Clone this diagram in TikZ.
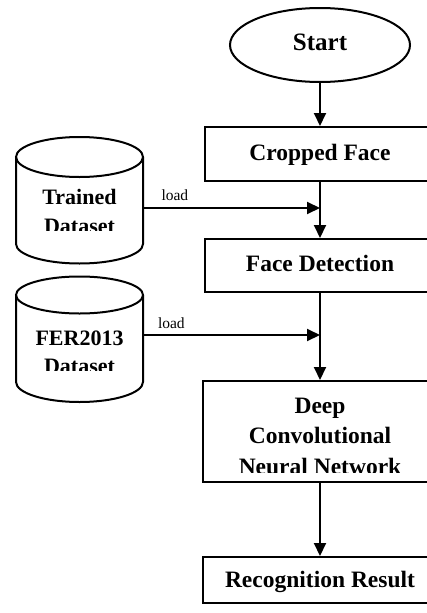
\documentclass[tikz,border=0pt]{standalone}
\usepackage{fontspec}
\setmainfont{Liberation Serif}
\usetikzlibrary{arrows.meta,shapes.geometric}
\begin{document}
\begin{tikzpicture}[x=1pt,y=-1pt,
  line width=2pt,
  stepbox/.style={draw, rectangle, inner sep=0pt},
  boxtext/.style={font=\bfseries\fontsize{23.5}{30}\selectfont, anchor=base, inner sep=0pt},
  dbtext/.style={font=\bfseries\fontsize{22}{29}\selectfont, anchor=base, inner sep=0pt},
  loadtext/.style={font=\fontsize{15.5}{18}\selectfont, anchor=base west, inner sep=0pt},
  flow/.style={-{Triangle[length=13pt,width=12pt]}},
]
\useasboundingbox (0,0) rectangle (427,613);
\clip (0,0) rectangle (427,613);

% start terminal
\node[draw, ellipse, minimum width=180pt, minimum height=74pt, inner sep=0pt] (start) at (320,45) {};
\node[boxtext, font=\bfseries\fontsize{25}{30}\selectfont] (starttxt) at (320,50) {Start};

% process boxes
\node[stepbox, minimum width=230pt, minimum height=54pt] (crop) at (320,154) {};
\node[boxtext] (croptxt) at (320,160) {Cropped Face};

\node[stepbox, minimum width=230pt, minimum height=53pt] (facedet) at (320,265.5) {};
\node[boxtext] (facedettxt) at (320,271) {Face Detection};

\node[stepbox, minimum width=234pt, minimum height=101pt] (dcnn) at (320,431.5) {};
\node[boxtext] (dcnn1) at (320,413) {Deep};
\node[boxtext] (dcnn2) at (320,443) {Convolutional};
\begin{scope}
  \clip (200,450) rectangle (440,472);
  \node[boxtext] (dcnn3) at (320,474) {Neural Network};
\end{scope}

\node[stepbox, minimum width=234pt, minimum height=46pt] (recog) at (320,580) {};
\node[boxtext] (recogtxt) at (320,587) {Recognition Result};

% datasets (cylinders)
\draw (16,157) -- (16,244) arc[start angle=180, end angle=0, x radius=63.5, y radius=19.5] -- (143,157);
\draw (79.5,157) ellipse [x radius=63.5, y radius=20];
\node[dbtext] (trained1) at (79.5,204) {Trained};
\begin{scope}
  \clip (16,210) rectangle (143,230);
  \node[dbtext] (trained2) at (79.5,233) {Dataset};
\end{scope}

\draw (16,295) -- (16,382) arc[start angle=180, end angle=0, x radius=63.5, y radius=20] -- (143,295);
\draw (79.5,295) ellipse [x radius=63.5, y radius=18.5];
\node[dbtext] (fer1) at (79.5,345) {FER2013};
\begin{scope}
  \clip (16,350) rectangle (143,370);
  \node[dbtext] (fer2) at (79.5,373) {Dataset};
\end{scope}

% connectors
\coordinate (trainedout) at (143,208);
\coordinate (join1) at (320,208);
\coordinate (ferout) at (143,335);
\coordinate (join2) at (320,335);

\draw[flow] (start.south) -- (crop.north);
\draw[flow] (crop.south) -- (facedet.north);
\draw[flow] (facedet.south) -- (dcnn.north);
\draw[flow] (dcnn.south) -- (recog.north);
\draw[flow] (trainedout) -- (join1);
\draw[flow] (ferout) -- (join2);
\node[loadtext] (load1) at (160.5,200.5) {load};
\node[loadtext] (load2) at (157,328) {load};
\end{tikzpicture}
\end{document}
